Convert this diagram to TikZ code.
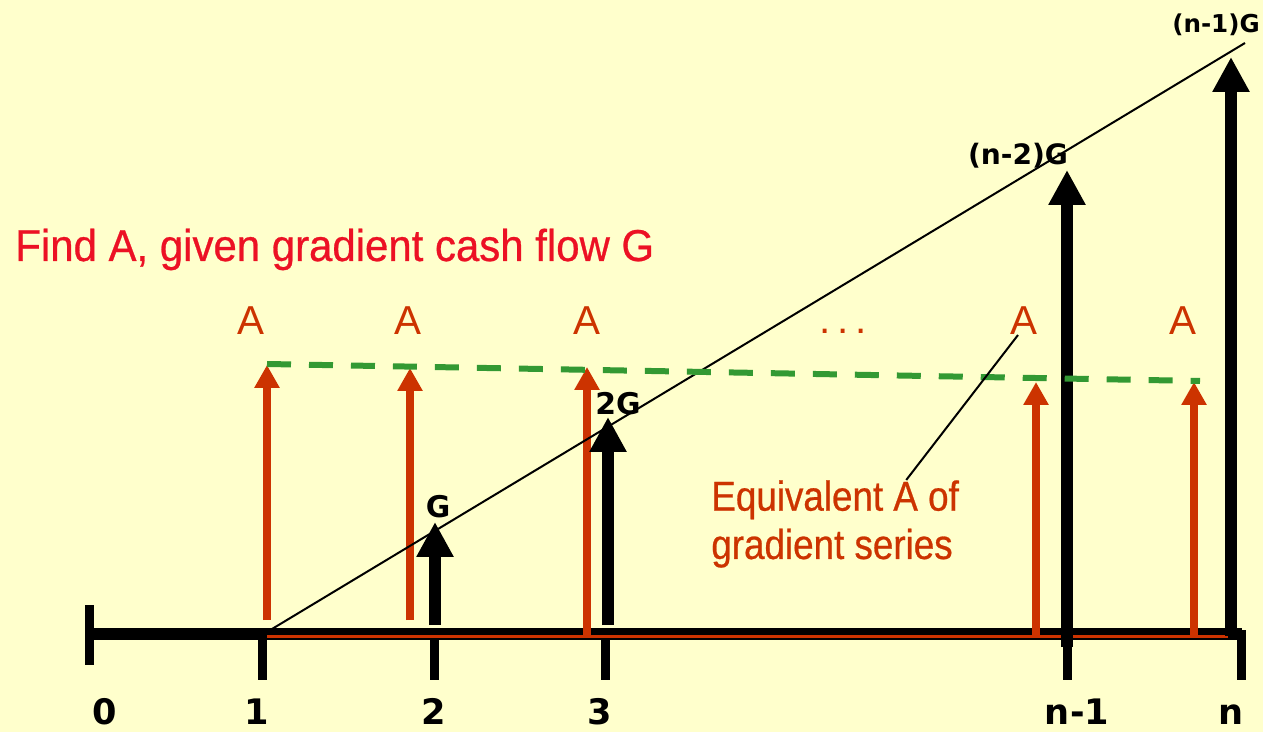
\documentclass[tikz,border=0pt]{standalone}
\usepackage{fontspec}
\setmainfont{Liberation Sans}
\newfontfamily\narrowfont[FakeStretch=0.88, FakeBold=0.6]{Liberation Sans}
\newfontfamily\titlefont[FakeStretch=0.94, FakeBold=0.6]{Liberation Sans}
\newfontfamily\labelfont{DejaVu Sans}
\usepackage{tikz}
\usetikzlibrary{positioning, arrows.meta}
\definecolor{paper}{RGB}{255, 255, 204}
\definecolor{flowred}{RGB}{204, 51, 0}
\definecolor{titlered}{RGB}{236, 17, 36}
\definecolor{dashgreen}{RGB}{51, 153, 51}

\begin{document}
\begin{tikzpicture}[x=0.02cm, y=-0.02cm,
    axisline/.style={line width=0.24cm},
    tickmark/.style={line width=0.18cm},
    gradarrow/.style={line width=0.24cm, -{Triangle[width=0.7cm, length=0.7cm]}},
    eqarrow/.style={flowred, line width=0.16cm, -{Triangle[width=0.48cm, length=0.46cm]}},
    ticklabel/.style={anchor=base, inner sep=0pt, font=\labelfont\bfseries\fontsize{20}{24}\selectfont},
    glabel/.style={anchor=base, inner sep=0pt, font=\labelfont\bfseries\fontsize{17}{20}\selectfont},
    alabel/.style={anchor=base, inner sep=0pt, text=flowred, font=\fontsize{23}{28}\selectfont}]
    % Background
    \fill[paper] (0,0) rectangle (1263,732);
    \useasboundingbox (0,0) rectangle (1263,732);
    % Time axis
    \draw[axisline] (88,634) -- (1242,634);
    \draw[tickmark] (89.5,605) -- (89.5,665);
    \foreach \x in {262, 434, 605, 1067, 1241} {
        \draw[tickmark] (\x,630) -- (\x,680);
    }
    \draw[flowred, line width=0.06cm] (267,636) -- (1228,636);
    \foreach \x/\t/\n in {105/0/p0, 257/1/p1, 434/2/p2, 600/3/p3, 1077/n-1/pn1, 1231/n/pn} {
        \node[ticklabel] (\n) at (\x,724) {\t};
    }
    % Equivalent A series
    \foreach \x/\b/\t in {267/620/365, 410/620/368, 587/636/367, 1036/636/382, 1194/636/382} {
        \draw[eqarrow] (\x,\b) -- (\x,\t);
    }
    % Gradient line
    \draw[line width=0.04cm] (267,632) -- (1245,43);
    % Gradient cash flows
    \foreach \x/\b/\t in {435/625/522, 608/625/417, 1067/647/170, 1231/636/57} {
        \draw[gradarrow] (\x,\b) -- (\x,\t);
    }
    \draw[dashgreen, line width=0.12cm, dash pattern=on 0.48cm off 0.36cm] (267,364) -- (1200,381);
    % Labels
    \node[anchor=base west, inner sep=0pt, text=titlered, font=\titlefont\fontsize{25.4}{30}\selectfont] (title) at (15,261) {Find A, given gradient cash flow G};
    \foreach \x/\n in {251/a1, 408/a2, 587/a3, 1024/a4, 1183/a5} {
        \node[alabel] (\n) at (\x,335) {A};
    }
    \node[alabel] (dots) at (843,334) {.\,.\,.};
    \node[glabel] (g1) at (438,518) {G};
    \node[glabel] (g2) at (618,415) {2G};
    \node[glabel, font=\labelfont\bfseries\fontsize{16}{19}\selectfont] (g3) at (1018,165) {(n-2)G};
    \node[glabel, font=\labelfont\bfseries\fontsize{14}{17}\selectfont] (g4) at (1216,33) {(n-1)G};
    \node[anchor=north west, inner sep=0pt, text=flowred, align=left,
          font=\narrowfont\fontsize{23.8}{27.5}\selectfont] (equiv) at (711,480) {Equivalent A of\\gradient series};
    \draw[line width=0.04cm] ([xshift=-0.12cm]a4.base) -- ([xshift=-1.06cm]equiv.north east);
\end{tikzpicture}
\end{document}
